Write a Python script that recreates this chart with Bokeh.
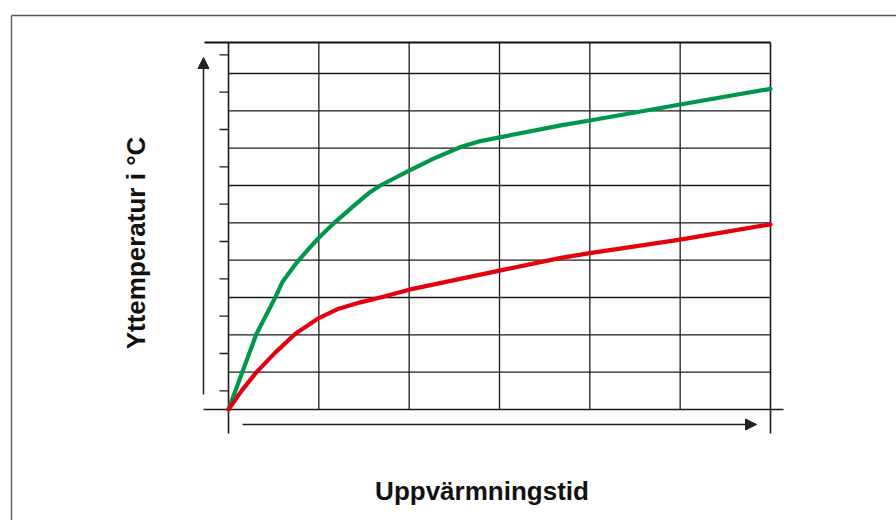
import math
from bokeh.plotting import figure
from bokeh.models import Range1d, Arrow, NormalHead
from bokeh.core.properties import value
from bokeh.embed import file_html
from bokeh.resources import INLINE

# ---- data ----
time_green = [0, 0.31, 0.52, 0.60, 0.76, 0.92, 1.0, 1.18, 1.37, 1.55, 1.68, 2.0, 2.27, 2.57, 2.79, 3.0, 3.68, 4.0, 5.0, 6.0]
temp_green = [0, 2.03, 3.01, 3.43, 3.95, 4.39, 4.60, 5.02, 5.42, 5.79, 6.00, 6.40, 6.72, 7.03, 7.19, 7.29, 7.61, 7.74, 8.17, 8.59]
time_red = [0, 0.15, 0.31, 0.52, 0.74, 1.0, 1.22, 1.46, 1.68, 2.0, 3.0, 3.68, 4.0, 5.0, 6.0]
temp_red = [0, 0.52, 1.00, 1.53, 2.03, 2.45, 2.70, 2.87, 3.00, 3.21, 3.72, 4.06, 4.19, 4.55, 4.96]
x_grid = [0, 1, 2, 3, 4, 5, 6]
y_grid = [1, 2, 3, 4, 5, 6, 7, 8, 9]
y_ticks = [0.5, 1.5, 2.5, 3.5, 4.5, 5.5, 6.5, 7.5, 8.5, 9.5]
x_title = "Uppvärmningstid"
y_title = "Yttemperatur i °C"

# ---- layout ----
W, H = 896, 520
ORIGIN_X, ORIGIN_Y = 228.0, 409.0      # px of data origin inside the canvas
UX, UY = 90.333, 37.333                # px per data unit
X_MAX, Y_TOP = 6.0, 9.83

p = figure(width=W, height=H, output_backend="svg", toolbar_location=None,
           x_range=Range1d(-ORIGIN_X / UX, (W - ORIGIN_X) / UX),
           y_range=Range1d(-(H - ORIGIN_Y) / UY, ORIGIN_Y / UY),
           min_border=0, min_border_left=0, min_border_right=0,
           min_border_top=0, min_border_bottom=0)
p.xaxis.visible = False
p.yaxis.visible = False
p.grid.visible = False
p.outline_line_color = None
p.background_fill_color = "white"
p.border_fill_color = "white"

# outer frame (top + left)
fx = -217 / UX
fy = 394 / UY
p.segment(x0=[fx, fx], y0=[fy, fy], x1=[(W - ORIGIN_X) / UX, fx], y1=[fy, -(H - ORIGIN_Y) / UY],
          line_color="#555555", line_width=1.3)

GRID_C = "#1a1a1a"
# horizontal grid lines
p.segment(x0=[0] * len(y_grid), y0=y_grid, x1=[X_MAX] * len(y_grid), y1=y_grid,
          line_color=GRID_C, line_width=1.3)
# interior vertical grid lines
inner = x_grid[1:-1]
p.segment(x0=inner, y0=[0] * len(inner), x1=inner, y1=[Y_TOP] * len(inner),
          line_color=GRID_C, line_width=1.3)
# left / right lines extended below the baseline
ext_low = -24 / UY
p.segment(x0=[x_grid[0], x_grid[-1]], y0=[ext_low, ext_low], x1=[x_grid[0], x_grid[-1]],
          y1=[Y_TOP, Y_TOP], line_color=GRID_C, line_width=1.6)
# baseline extended both sides
p.segment(x0=[-25 / UX], y0=[0], x1=[X_MAX + 13 / UX], y1=[0], line_color=GRID_C, line_width=1.4)
# top line extended to the left
p.segment(x0=[-24 / UX], y0=[Y_TOP], x1=[X_MAX], y1=[Y_TOP], line_color="#111111", line_width=2)
# tick marks on the left
tl = -9 / UX
p.segment(x0=[tl] * len(y_ticks), y0=y_ticks, x1=[0] * len(y_ticks), y1=y_ticks,
          line_color=GRID_C, line_width=1.3)

# curves
p.line(time_green, temp_green, line_color="#00974a", line_width=4.2, line_join="round", line_cap="round")
p.line(time_red, temp_red, line_color="#e3000f", line_width=4.2, line_join="round", line_cap="round")

# arrows
ax = -25 / UX
p.add_layout(Arrow(x_start=ax, y_start=15 / UY, x_end=ax, y_end=352 / UY,
                   line_color="#222222", line_width=1.5,
                   end=NormalHead(size=11, fill_color="#222222", line_color="#222222", line_width=1)))
ay = -15 / UY
p.add_layout(Arrow(x_start=14 / UX, y_start=ay, x_end=528 / UX, y_end=ay,
                   line_color="#222222", line_width=1.5,
                   end=NormalHead(size=11, fill_color="#222222", line_color="#222222", line_width=1)))

# titles
p.text(x=[253.5 / UX], y=[-81 / UY], text=[x_title], text_font=value("Liberation Sans"),
       text_font_style="bold", text_font_size=value("26px"), text_color="#111111",
       text_align="center", text_baseline="middle")
p.text(x=[-92.5 / UX], y=[166.5 / UY], text=[y_title], text_font=value("Liberation Sans"),
       text_font_style="bold", text_font_size=value("26px"), text_color="#111111",
       text_align="center", text_baseline="middle", angle=math.pi / 2)

open("out.html", "w").write(file_html(p, INLINE))
